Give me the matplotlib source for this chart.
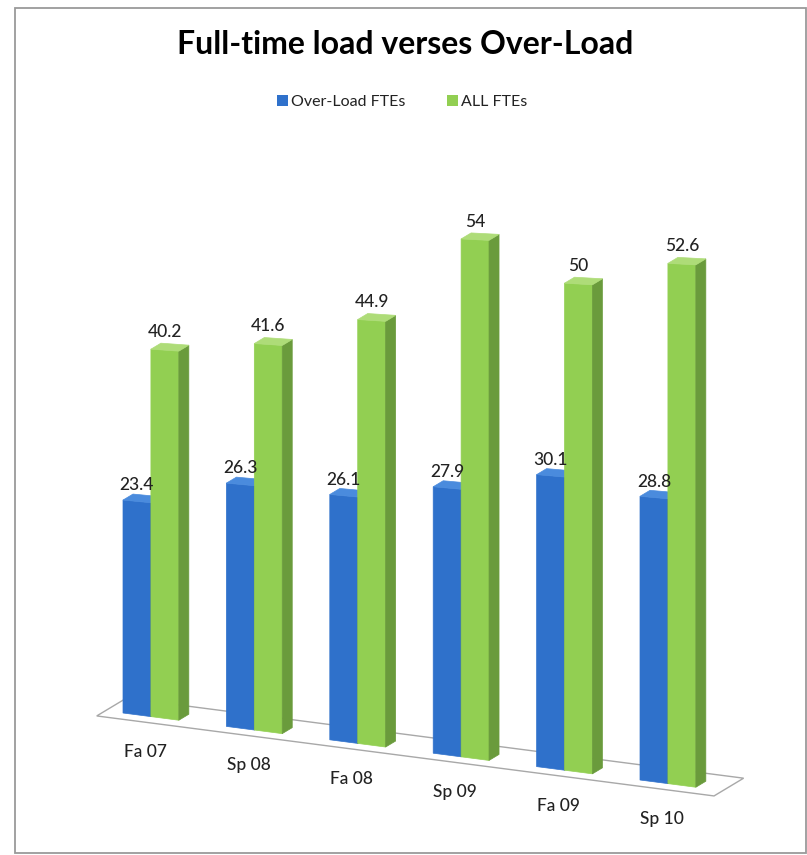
import matplotlib.pyplot as plt
from matplotlib.patches import Polygon, Patch, Rectangle

plt.rcParams['font.family'] = ['Lato', 'DejaVu Sans']

terms = ["Fa 07", "Sp 08", "Fa 08", "Sp 09", "Fa 09", "Sp 10"]
overload_fte = [23.4, 26.3, 26.1, 27.9, 30.1, 28.8]
all_fte = [40.2, 41.6, 44.9, 54, 50, 52.6]

blue = ('#2F71CB', '#1F4E96', '#4A8BDD')    # front, side, top
green = ('#92CF52', '#6A9B3C', '#AEDC78')

# hand-rolled 3D column projection (figure pixels)
X0, Y0 = 123, 713        # front-bottom corner of first column
SX, SY = 103.4, 13.4     # shift per category
DX, DY = 10, 6           # shift per unit of depth
K0, KG = 9.1, 0.15       # pixels per FTE, growing toward the viewer
W = 0.27                 # column width in category units


def proj(c, d, v):
    x = X0 + SX * c + DX * d
    y = Y0 + SY * c - DY * d - (K0 + KG * c) * v
    return x, y


def column(ax, c0, v, cols):
    c1 = c0 + W
    faces = [
        [(c0, 0, 0), (c1, 0, 0), (c1, 0, v), (c0, 0, v)],
        [(c1, 0, 0), (c1, 1, 0), (c1, 1, v), (c1, 0, v)],
        [(c0, 0, v), (c1, 0, v), (c1, 1, v), (c0, 1, v)],
    ]
    for pts, col in zip(faces, cols):
        ax.add_patch(Polygon([proj(*p) for p in pts], closed=True,
                             facecolor=col, edgecolor=col, lw=0.5))


fig = plt.figure(figsize=(8.07, 8.55), dpi=100)
ax = fig.add_axes([0, 0, 1, 1])
ax.set_xlim(0, 807)
ax.set_ylim(855, 0)
ax.axis('off')

# chart border
ax.add_patch(Rectangle((15, 8), 791, 845, fill=False, edgecolor='#9A9A9A', lw=1.3))

# floor
floor = [proj(-0.17, -0.87, 0), proj(5.8, -0.87, 0),
         proj(5.8, 2.09, 0), proj(-0.17, 2.09, 0)]
ax.add_patch(Polygon(floor, closed=True, facecolor='white',
                     edgecolor='#A8A8A8', lw=1.0))

txt = dict(ha='center', va='center', fontsize=12.5, color='#222222',
           fontweight='medium')
for i, (term, a, b) in enumerate(zip(terms, overload_fte, all_fte)):
    column(ax, i, a, blue)
    column(ax, i + W, b, green)

    x, y = proj(i + W / 2, 0, a)
    ax.text(x, y - 16, f"{a:g}", **txt)
    x, y = proj(i + 1.5 * W, 0, b)
    ax.text(x, y - 18, f"{b:g}", **txt)

    x, y = proj(i + 0.2, -0.87, 0)
    ax.text(x + 10, y + 31, term, **txt)

fig.text(405 / 807, 1 - 45 / 855, "Full-time load verses Over-Load",
         ha='center', va='center', fontsize=23, fontweight='bold')

handles = [Patch(facecolor=blue[0]), Patch(facecolor=green[0])]
ax.legend(handles, ["Over-Load FTEs", "ALL FTEs"], loc='center',
          bbox_to_anchor=(402 / 807, 1 - 102 / 855), ncol=2, frameon=False,
          handlelength=0.7, handleheight=0.7, handletextpad=0.2,
          columnspacing=2.6, fontsize=11.5, labelcolor='#222222')

fig.savefig('out.png', dpi=100)
